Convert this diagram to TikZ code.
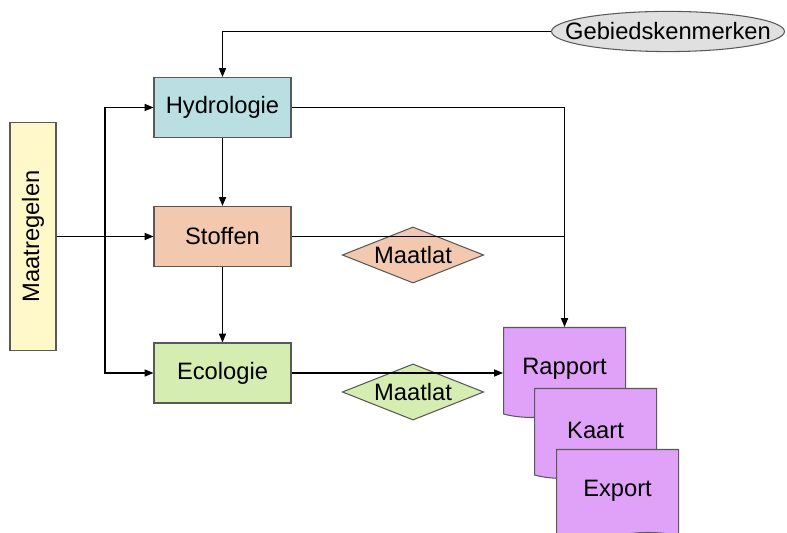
\documentclass[tikz,border=0pt]{standalone}
\usepackage{fontspec}
\setmainfont{Liberation Sans}
\usetikzlibrary{shapes.geometric,shapes.symbols,arrows.meta}
\definecolor{mgeel}{HTML}{FFF8C8}
\definecolor{mblauw}{HTML}{BADFE3}
\definecolor{moranje}{HTML}{F2C9AF}
\definecolor{mgroen}{HTML}{D5EDB1}
\definecolor{mgrijs}{HTML}{E0E0E0}
\definecolor{mpaars}{HTML}{E0A2F8}
\tikzset{
  blok/.style={draw=black!65,line width=0.6pt,minimum width=2.74cm,minimum height=1.2cm},
  ruit/.style={diamond,draw=black!65,line width=0.6pt,inner sep=1.6pt,aspect=2.52},
  doc/.style={tape,tape bend top=none,tape bend bottom=in and out,tape bend height=4pt,
    draw=black!65,fill=mpaars,line width=0.6pt,minimum width=2.44cm,minimum height=1.8cm,anchor=north west},
  pijl/.style={->,line width=0.6pt},
}
\begin{document}
\begin{tikzpicture}[>={Triangle[length=5pt,width=4pt]},font=\fontsize{13.5}{16}\selectfont]
    \clip (0,0) rectangle (15.74,10.66);
    \node [blok,fill=mgeel,rotate=90,minimum width=4.56cm,minimum height=0.92cm] (maa) at (0.66,5.93) {Maatregelen};
    \node [blok,fill=mblauw] (hyd) at (4.45,8.51) {Hydrologie};
    \node [blok,fill=moranje] (sto) at (4.45,5.93) {Stoffen};
    \node [blok,fill=mgroen] (eco) at (4.45,3.2) {Ecologie};
    \node [ellipse,draw=black!65,fill=mgrijs,line width=0.6pt,inner xsep=-0.41cm,inner ysep=0.11cm] (geb) at (13.36,10.03) {Gebiedskenmerken};
    \node [ruit,fill=moranje] (ml1) at (8.26,5.56) {Maatlat};
    \node [ruit,fill=mgroen] (ml2) at (8.26,2.82) {Maatlat};
    \node [doc] (rap) at (10.06,4.12) {Rapport};
    \node [doc] (kaa) at (10.68,2.9) {Kaart};
    \node [doc] (exp) at (11.12,1.68) {Export};
    \coordinate (split) at (2.1,5.93);
    \draw [pijl] (geb.west) -| (hyd.north);
    \draw [pijl] (maa) -- (sto);
    \draw [pijl] (split) |- (hyd.west);
    \draw [pijl] (split) |- (eco.west);
    \draw [pijl] (hyd) -- (sto);
    \draw [pijl] (sto) -- (eco);
    \draw [pijl] (hyd.east) -| (rap.north);
    \draw [line width=0.6pt] (sto.east) -- (sto.east -| rap.north);
    \draw [pijl] (eco.east) -- (eco.east -| rap.west);
\end{tikzpicture}
\end{document}
